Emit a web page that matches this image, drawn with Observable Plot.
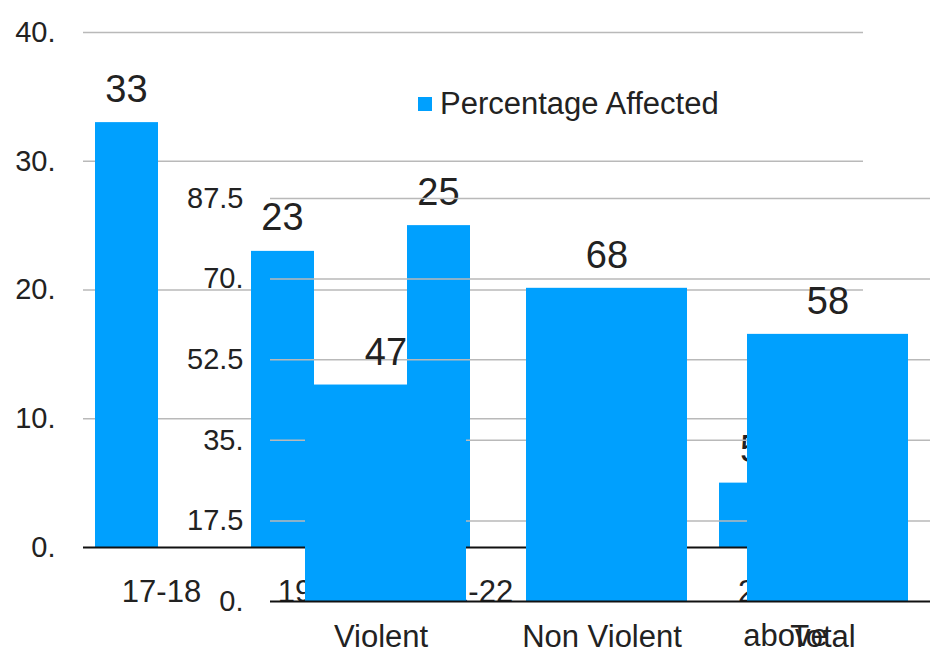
<!DOCTYPE html>
<html><head><meta charset="utf-8">
<script src="https://cdn.jsdelivr.net/npm/d3@7"></script>
<script src="https://cdn.jsdelivr.net/npm/@observablehq/plot@0.6"></script>
<style>
body{margin:0;background:#fff;font-family:"Liberation Sans",Arial,sans-serif;}
#wrap{position:relative;width:930px;height:650px;overflow:hidden;background:#fff;}
#wrap svg{position:absolute;left:0;top:0;}
#legend{position:absolute;left:418px;top:86px;font-size:31px;color:#222;display:flex;align-items:center;white-space:nowrap;z-index:5;}
#legend .sw{display:inline-block;width:14px;height:14px;background:#00a0fe;margin-right:8px;}
</style></head><body>
<div id="wrap"></div>
<script>
// Back chart: by age group
const ageGroups = ["17-18", "19-20", "21-22", "23-24", "25 and\nabove"];
const ageValues = [33, 23, 25, null, 5];
const ageTicks = [0, 10, 20, 30, 40];
const ageTickLabels = ["0.", "10.", "20.", "30.", "40."];
// Front chart: by offence type
const crimeTypes = ["Violent", "Non Violent", "Total"];
const crimeValues = [47, 68, 58];
const crimeTicks = [0, 17.5, 35, 52.5, 70, 87.5];
const crimeTickLabels = ["0.", "17.5", "35.", "52.5", "70.", "87.5"];
const seriesName = "Percentage Affected";

const barColor = "#00a0fe";
const gridColor = "#b9b9b9";
const font = "'Liberation Sans', Arial, sans-serif";

const ageData = ageGroups.map((g, i) => ({g, v: ageValues[i]})).filter(d => d.v != null);
const crimeData = crimeTypes.map((c, i) => ({c, v: crimeValues[i]}));

const chartA = Plot.plot({
  width: 930, height: 650,
  marginLeft: 83, marginRight: 67, marginTop: 32, marginBottom: 103,
  style: {background: "transparent", fontFamily: font, color: "#222", overflow: "visible"},
  x: {domain: ageGroups, padding: 0, axis: null},
  y: {domain: [0, 40], axis: null},
  marks: [
    Plot.ruleY(ageTicks.filter(t => t > 0), {stroke: gridColor, strokeWidth: 1.5}),
    Plot.barY(ageData, {x: "g", y: "v", fill: barColor, insetLeft: 12, insetRight: 81}),
    Plot.ruleY([0], {stroke: "#111", strokeWidth: 2}),
    Plot.axisY(ageTicks, {tickSize: 0, tickPadding: 28, fontSize: 29, label: null,
      tickFormat: d => ageTickLabels[ageTicks.indexOf(d)]}),
    Plot.axisX({tickSize: 0, tickPadding: 24, fontSize: 31, lineHeight: 1.4, label: null}),
    Plot.text(ageData, {x: "g", y: "v", text: d => String(d.v), dx: -35, dy: -21,
      lineAnchor: "bottom", fontSize: 38, fill: "#222"})
  ]
});

const chartB = Plot.plot({
  width: 933, height: 650,
  marginLeft: 270, marginRight: 0, marginTop: 198, marginBottom: 49,
  style: {background: "transparent", fontFamily: font, color: "#222", overflow: "visible", maxWidth: "none"},
  x: {domain: crimeTypes, padding: 0, axis: null},
  y: {domain: [0, 87.5], axis: null},
  marks: [
    Plot.ruleY(crimeTicks.filter(t => t > 0), {stroke: gridColor, strokeWidth: 1.5}),
    Plot.barY(crimeData, {x: "c", y: "v", fill: barColor, insetLeft: 35, insetRight: 25}),
    Plot.ruleY([0], {stroke: "#111", strokeWidth: 2}),
    Plot.axisY(crimeTicks, {tickSize: 0, tickPadding: 27, fontSize: 29, label: null,
      tickFormat: d => crimeTickLabels[crimeTicks.indexOf(d)]}),
    Plot.axisX({tickSize: 0, tickPadding: 23, fontSize: 31, label: null}),
    Plot.text(crimeData, {x: "c", y: "v", text: d => String(d.v), dx: 5, dy: -20,
      lineAnchor: "bottom", fontSize: 38, fill: "#222"})
  ]
});

const wrap = document.getElementById("wrap");
wrap.appendChild(chartA);
wrap.appendChild(chartB);
const legend = document.createElement("div");
legend.id = "legend";
legend.innerHTML = '<span class="sw"></span>';
legend.appendChild(document.createTextNode(seriesName));
wrap.appendChild(legend);
</script>
</body></html>
